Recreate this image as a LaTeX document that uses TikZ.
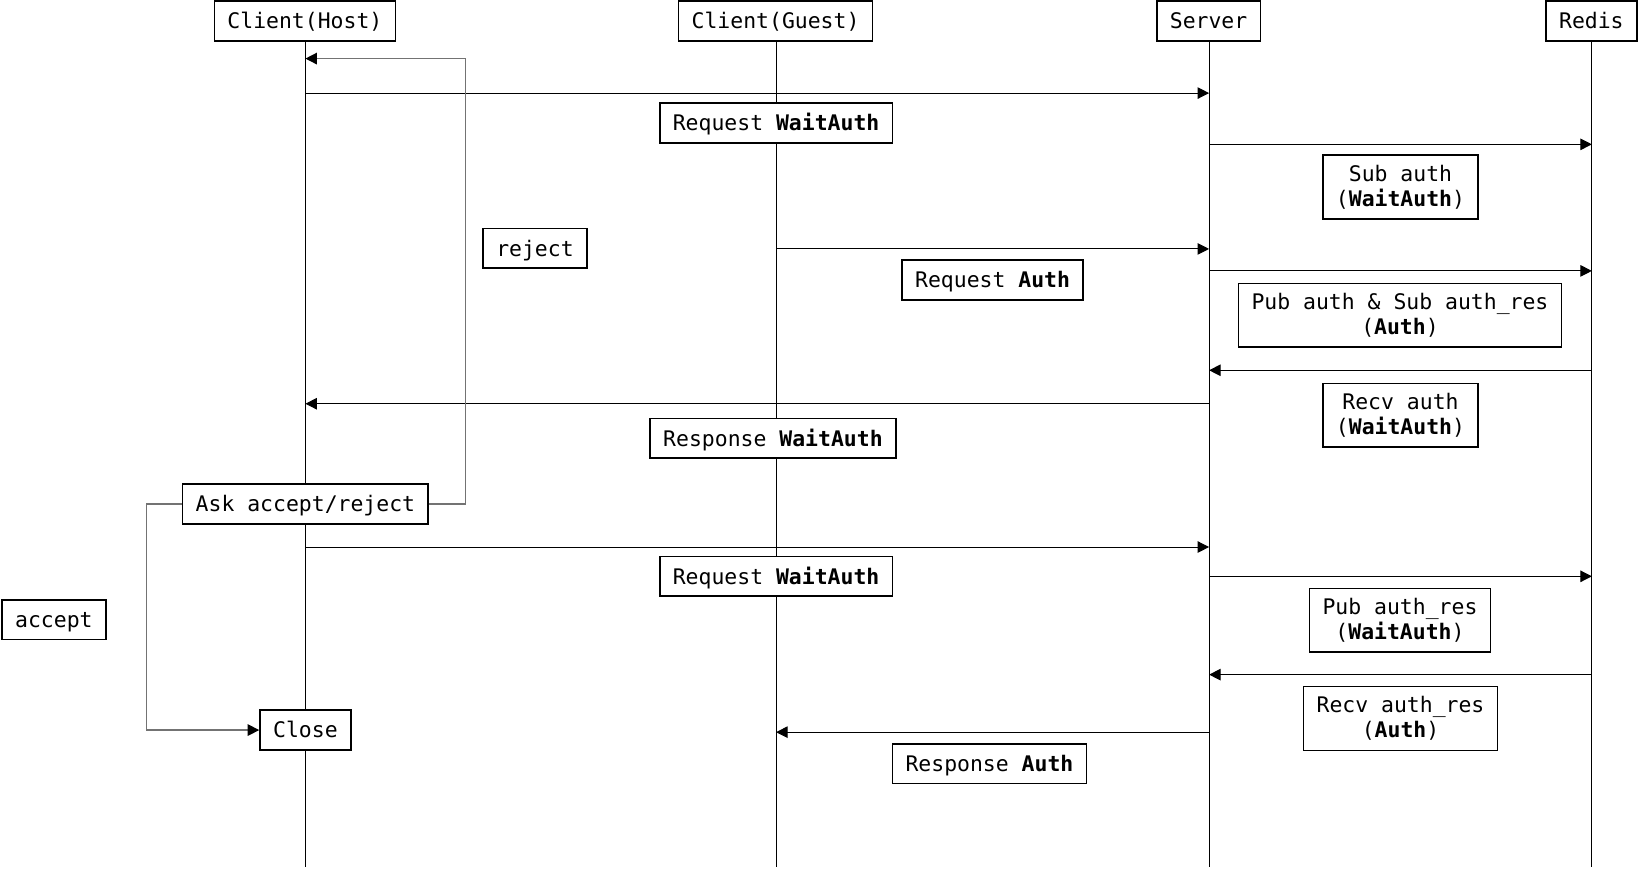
\documentclass[tikz,border=0pt]{standalone}
\usepackage{fontspec}
\setmainfont{DejaVu Sans Mono}
\usetikzlibrary{arrows.meta}
\definecolor{lg}{RGB}{115,115,115}
\begin{document}
\begin{tikzpicture}[x=1pt,y=-1pt,
  font=\fontsize{20.5}{24}\selectfont,
  box/.style={draw=black,line width=1.6pt,fill=white,inner xsep=12.5pt,inner ysep=0pt,
    minimum height=38pt,text height=17.5pt,text depth=2.5pt},
  box2/.style={draw=black,line width=1.6pt,fill=white,inner xsep=12.5pt,inner ysep=4pt,
    minimum height=61pt,align=center},
  life/.style={line width=1pt,draw=black},
  msg/.style={line width=1pt,draw=black,-{Triangle[length=11pt,width=11pt]}},
  gryarr/.style={line width=1.3pt,draw=lg,-{Triangle[length=11pt,width=11pt,color=black]}}]
\useasboundingbox (0,0) rectangle (1568,831);

% lifelines
\coordinate (hT) at (292,20);  \coordinate (hB) at (292,829);
\coordinate (gT) at (742,20);  \coordinate (gB) at (742,829);
\coordinate (sT) at (1156,20); \coordinate (sB) at (1156,829);
\coordinate (rT) at (1522,20); \coordinate (rB) at (1522,829);
\draw[life] (hT) -- (hB);
\draw[life] (gT) -- (gB);
\draw[life] (sT) -- (sB);
\draw[life] (rT) -- (rB);

% headers
\node[box] (host) at (291.5,20) {Client(Host)};
\node[box] (guest) at (741.5,20) {Client(Guest)};
\node[box] (server) at (1155.5,20) {Server};
\node[box] (redis) at (1521.5,20) {Redis};

% message anchor points
\coordinate (m1a) at (292,89);   \coordinate (m1b) at (1156,89);
\coordinate (m2a) at (1156,138); \coordinate (m2b) at (1522,138);
\coordinate (m3a) at (742,238);  \coordinate (m3b) at (1156,238);
\coordinate (m4a) at (1156,259); \coordinate (m4b) at (1522,259);
\coordinate (m5a) at (1522,354); \coordinate (m5b) at (1156,354);
\coordinate (m6a) at (1156,386); \coordinate (m6b) at (292,386);
\coordinate (m8a) at (292,523);  \coordinate (m8b) at (1156,523);
\coordinate (m9a) at (1156,551); \coordinate (m9b) at (1522,551);
\coordinate (m10a) at (1522,645); \coordinate (m10b) at (1156,645);
\coordinate (m11a) at (1156,700); \coordinate (m11b) at (742,700);

\draw[msg] (m1a) -- (m1b);
\draw[msg] (m2a) -- (m2b);
\draw[msg] (m3a) -- (m3b);
\draw[msg] (m4a) -- (m4b);
\draw[msg] (m5a) -- (m5b);
\draw[msg] (m6a) -- (m6b);
\draw[msg] (m8a) -- (m8b);
\draw[msg] (m9a) -- (m9b);
\draw[msg] (m10a) -- (m10b);
\draw[msg] (m11a) -- (m11b);

% labels
\node[box] (l1) at (742,117.5) {Request \textbf{WaitAuth}};
\node[box2] (l2) at (1339,179) {Sub auth\\(\textbf{WaitAuth})};
\node[box] (l3) at (949,267.5) {Request \textbf{Auth}};
\node[box2] (l4) at (1338.5,301.5) {Pub auth \& Sub auth\_res\\(\textbf{Auth})};
\node[box2] (l5) at (1339,397) {Recv auth\\(\textbf{WaitAuth})};
\node[box] (l6) at (739,419) {Response \textbf{WaitAuth}};
\node[box] (l8) at (742,551) {Request \textbf{WaitAuth}};
\node[box2] (l9) at (1338.5,593) {Pub auth\_res\\(\textbf{WaitAuth})};
\node[box2] (l10) at (1339,687) {Recv auth\_res\\(\textbf{Auth})};
\node[box] (l11) at (946,730) {Response \textbf{Auth}};

% ask / close
\node[box] (ask) at (292,482) {Ask accept/reject};
\node[box] (close) at (292,698) {Close};

% reject loop
\coordinate (rjc) at (445,56);
\coordinate (rjend) at (292,56);
\draw[gryarr] (ask.east) -| (rjc) -- (rjend);
\node[box] (reject) at (511.5,237.5) {reject};

% accept path
\coordinate (acc) at (140,698);
\draw[gryarr] (ask.west) -| (acc) -- (close.west);
\node[box] (accept) at (51.5,592.5) {accept};
\end{tikzpicture}
\end{document}
